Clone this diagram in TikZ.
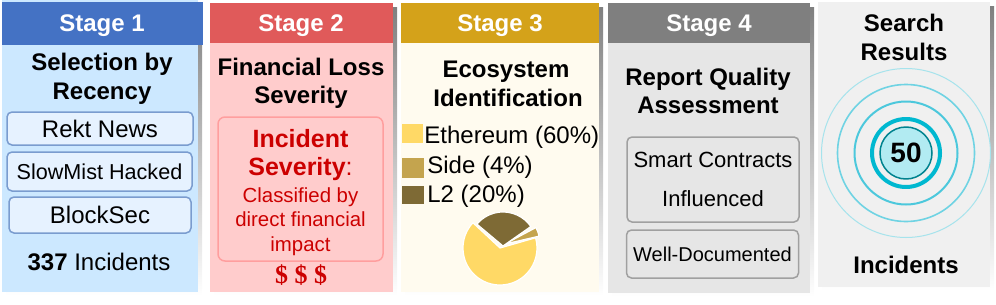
\documentclass[tikz,border=0pt]{standalone}
\usepackage{fontspec}
\setmainfont{Liberation Sans}
\newfontfamily\dollarfont{Liberation Serif}
\definecolor{shade}{HTML}{C0C0C0}
\definecolor{headA}{HTML}{4472C4}
\definecolor{bodyA}{HTML}{CCE8FF}
\definecolor{srcfill}{HTML}{E6F2FF}
\definecolor{srcline}{HTML}{7A9CCF}
\definecolor{headB}{HTML}{E05A5A}
\definecolor{bodyB}{HTML}{FFCCCC}
\definecolor{sevline}{HTML}{FF9E9E}
\definecolor{sevred}{HTML}{CC0000}
\definecolor{headC}{HTML}{D4A21A}
\definecolor{bodyC}{HTML}{FFFBEF}
\definecolor{eth}{HTML}{FFD966}
\definecolor{side}{HTML}{C4A44E}
\definecolor{ltwo}{HTML}{7E6A35}
\definecolor{headD}{HTML}{7F7F7F}
\definecolor{bodyD}{HTML}{E6E6E6}
\definecolor{chkline}{HTML}{A0A0A0}
\definecolor{bodyE}{HTML}{F0F0F0}
\definecolor{ringA}{HTML}{A6E3EC}
\definecolor{ringB}{HTML}{6FD3E3}
\definecolor{ringC}{HTML}{4CC8DC}
\definecolor{ringD}{HTML}{00B8D0}
\definecolor{ringdark}{HTML}{00838F}
\definecolor{ringfill}{HTML}{B2EBF2}
\begin{document}
\begin{tikzpicture}[x=.5pt, y=-.5pt, line join=round,
	font=\fontsize{12}{14}\selectfont,
	lbl/.style={anchor=base, inner sep=0pt},
	head/.style={lbl, text=white, font=\bfseries\fontsize{12}{14}\selectfont},
	ttl/.style={lbl, font=\bfseries\fontsize{12}{14}\selectfont},
	srcbox/.style={draw=srcline, fill=srcfill, line width=.75pt, rounded corners=2.5pt, inner sep=0pt},
	chkbox/.style={draw=chkline, fill=bodyD, line width=.75pt, rounded corners=2.5pt, inner sep=0pt, align=center, minimum width=86pt}]
	\useasboundingbox (0,0) rectangle (996,305);
	\foreach \xa/\ya/\xb/\yb in {2/0/198/292, 210/3/393/292, 401/3/599/292, 608/3/810/293, 818/2/990/287}
		\fill[shade] (\xa+4,\ya+4) rectangle (\xb+4,\yb+4);
	\fill[bodyA] (2,0) rectangle (198,292);
	\fill[headA] (2,2) rectangle (203,45);
	\fill[bodyB] (210,3) rectangle (393,292);
	\fill[headB] (210,3) rectangle (393,43);
	\fill[bodyC] (401,3) rectangle (599,292);
	\fill[headC] (401,3) rectangle (599,43);
	\fill[bodyD] (608,3) rectangle (810,293);
	\fill[headD] (608,3) rectangle (810,43);
	\fill[bodyE] (818,2) rectangle (990,287);

	\node[head] (h1) at (102,32) {Stage 1};
	\node[head] (h2) at (301,32) {Stage 2};
	\node[head] (h3) at (500,32) {Stage 3};
	\node[head] (h4) at (709,32) {Stage 4};

	\node[ttl] (t1a) at (102,70) {Selection by};
	\node[ttl] (t1b) at (102,99) {Recency};
	\node[srcbox, minimum width=93pt, minimum height=16.5pt] (rekt) at (100,128.5) {Rekt News};
	\node[srcbox, minimum width=92.5pt, minimum height=19.5pt, font=\fontsize{10.8}{13}\selectfont] (slowmist) at (99.5,171.5) {SlowMist Hacked};
	\node[srcbox, minimum width=91pt, minimum height=18pt] (blocksec) at (100,215) {BlockSec};
	\node[lbl] (n337) at (99,270) {\textbf{337} Incidents};

	\node[ttl] (t2a) at (301,75) {Financial Loss};
	\node[ttl] (t2b) at (301,103) {Severity};
	\draw[sevline, fill=bodyB, line width=.75pt, rounded corners=3.5pt] (218,117) rectangle (383,261);
	\node[lbl, text=sevred, font=\bfseries\fontsize{12.5}{15}\selectfont] (sev1) at (300.5,147) {Incident};
	\node[lbl, text=sevred, font=\fontsize{12.5}{15}\selectfont] (sev2) at (300.5,175) {{\bfseries Severity}:};
	\node[lbl, text=sevred, font=\fontsize{10.2}{12}\selectfont] (sev3) at (300.5,202) {Classified by};
	\node[lbl, text=sevred, font=\fontsize{10.2}{12}\selectfont] (sev4) at (300.5,226) {direct financial};
	\node[lbl, text=sevred, font=\fontsize{10.2}{12}\selectfont] (sev5) at (300.5,251) {impact};
	\node[lbl, text=sevred, font=\dollarfont\bfseries\fontsize{13}{15}\selectfont] (cost) at (301,283) {\$ \$ \$};

	\node[ttl] (t3a) at (506,77) {Ecosystem};
	\node[ttl] (t3b) at (508,106) {Identification};
	\fill[eth] (402,124) rectangle (423,143);
	\fill[side] (402,158) rectangle (424,178);
	\fill[ltwo] (402,186) rectangle (424,204);
	\node[lbl, anchor=base west] (keth) at (424,143) {Ethereum (60\%)};
	\node[lbl, anchor=base west] (kside) at (427,173) {Side (4\%)};
	\node[lbl, anchor=base west] (kltwo) at (427,202) {L2 (20\%)};
	\filldraw[fill=eth, draw=white, line width=.6pt] (500,248) -- ++(-137:37) arc[start angle=-137, end angle=-376, radius=37] -- cycle;
	\filldraw[fill=side, draw=white, line width=.6pt] (505,244) -- ++(-13:35) arc[start angle=-13, end angle=-28, radius=35] -- cycle;
	\filldraw[fill=ltwo, draw=white, line width=.6pt] (503,246) -- ++(-35:34) arc[start angle=-35, end angle=-140, radius=34] -- cycle;

	\node[ttl] (t4a) at (708,85) {Report Quality};
	\node[ttl] (t4b) at (708,113) {Assessment};
	\node[chkbox, minimum height=42.5pt, font=\fontsize{11}{19.5}\selectfont] (smart) at (713,179.5) {Smart Contracts\\Influenced};
	\node[chkbox, minimum height=24pt, font=\fontsize{10}{12}\selectfont] (welldoc) at (712.5,254) {Well-Documented};

	\node[ttl] (t5a) at (904,32) {Search};
	\node[ttl] (t5b) at (904,61) {Results};
	\draw[ringA, line width=.5pt] (906,153) circle[radius=84.5];
	\draw[ringB, line width=.8pt] (906,153) circle[radius=68.5];
	\draw[ringC, line width=1pt] (906,153) circle[radius=51.5];
	\draw[ringD, line width=2pt] (906,153) circle[radius=34];
	\node[circle, draw=ringdark, fill=ringfill, line width=.75pt, minimum size=26pt, inner sep=0pt, font=\bfseries\fontsize{14}{16}\selectfont] (hits) at (906,153) {50};
	\node[ttl] (t5c) at (906,273) {Incidents};
\end{tikzpicture}
\end{document}
